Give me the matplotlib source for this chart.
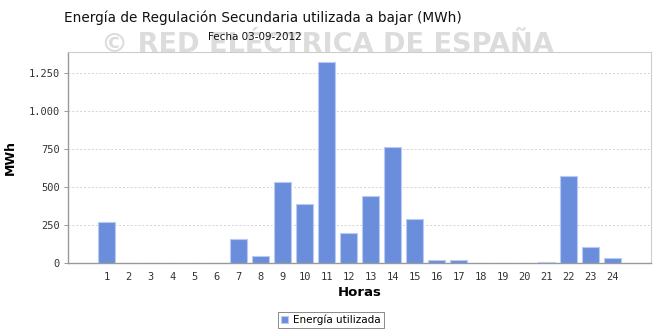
import matplotlib.pyplot as plt
from matplotlib.ticker import FuncFormatter

horas = list(range(1, 25))
energia = [271, 2, 2, 2, 2, 2, 159, 50, 533, 387, 1320, 197,
           440, 761, 293, 22, 22, 0, 0, 0, 8, 575, 109, 33]
y_ticks = [0, 250, 500, 750, 1000, 1250]

fig = plt.figure(figsize=(6.54, 3.34), dpi=100)
ax = fig.add_axes([0.104, 0.2117, 0.8916, 0.6326])

# watermark behind the plot
fig.text(0.5, 0.865, '\u00a9 RED EL\u00c9CTRICA DE ESPA\u00d1A', ha='center', va='center',
         fontsize=19.5, fontweight='bold', color='#dcdcdc', zorder=0)

bars = ax.bar(horas, energia, width=0.77, color='#6a8edb', edgecolor='#b9cbf2',
              linewidth=0.8, label='Energía utilizada', zorder=3)

ax.set_xlim(1 - 1.75, 24 + 1.75)
ax.set_ylim(0, 1386)
ax.set_xticks(horas)
ax.set_yticks(y_ticks)
ax.yaxis.set_major_formatter(FuncFormatter(lambda v, p: f'{int(v):,}'.replace(',', '.')))
ax.tick_params(axis='x', length=0, pad=6, labelsize=7.5, labelcolor='#333333')
ax.tick_params(axis='y', length=3, width=0.6, color='#888888', pad=3,
               labelsize=7.5, labelcolor='#333333')
for lab in ax.get_xticklabels() + ax.get_yticklabels():
    lab.set_family('DejaVu Sans Mono')

ax.grid(axis='y', color='#d4d4d4', linestyle=(0, (2, 2)), linewidth=0.7, zorder=0)
ax.set_axisbelow(True)
for side in ['top', 'right']:
    ax.spines[side].set_color('#cccccc')
    ax.spines[side].set_linewidth(0.8)
for side in ['left', 'bottom']:
    ax.spines[side].set_color('#999999')
    ax.spines[side].set_linewidth(1.0)

ax.set_xlabel('Horas', fontsize=9.5, fontweight='bold', labelpad=3)
ax.set_ylabel('MWh', fontsize=9, fontweight='bold', labelpad=8)

fig.text(0.402, 0.948, 'Energía de Regulación Secundaria utilizada a bajar (MWh)',
         ha='center', va='center', fontsize=9.8, color='#111111')
fig.text(0.389, 0.888, 'Fecha 03-09-2012', ha='center', va='center',
         fontsize=7.5, color='#111111')

leg = fig.legend(loc='center', bbox_to_anchor=(0.506, 0.042), fontsize=7.5,
                 frameon=True, fancybox=False, edgecolor='#555555',
                 handlelength=0.7, handleheight=0.7, handletextpad=0.5,
                 borderpad=0.3, borderaxespad=0)
leg.get_frame().set_linewidth(0.6)

fig.savefig('out.png', dpi=100)
